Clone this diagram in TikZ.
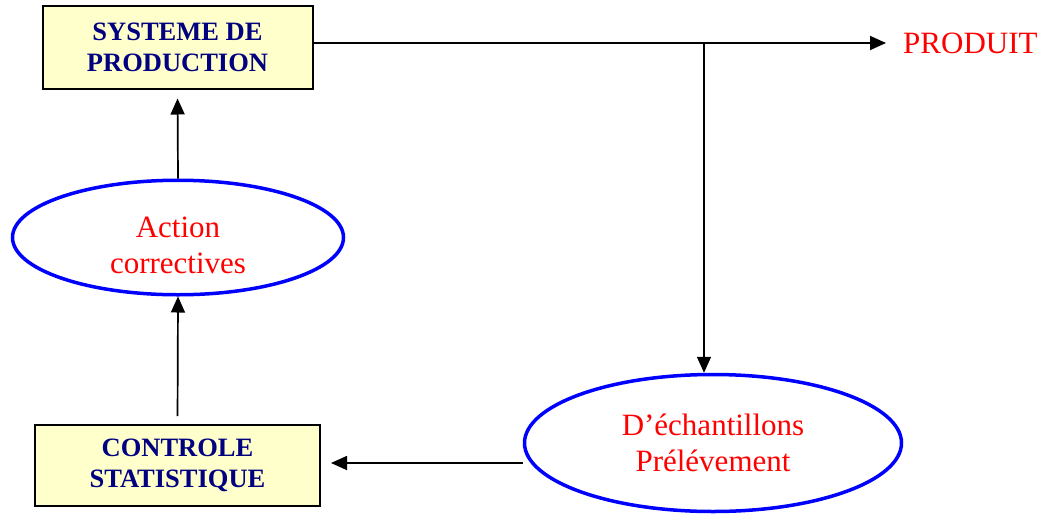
\documentclass[tikz,border=0pt]{standalone}
\usepackage{fontspec}
\setmainfont{Liberation Serif}
\usetikzlibrary{shapes.geometric,arrows.meta}
\definecolor{boxfill}{HTML}{FFFFCC}
\definecolor{navytext}{HTML}{000080}
\tikzset{
  boxnode/.style={draw=black, line width=2pt, fill=boxfill, text=navytext, align=center, inner sep=0pt,
    font=\fontsize{26.5}{31}\selectfont\bfseries},
  ellnode/.style={ellipse, draw=blue, line width=3.5pt, text=red, align=center, inner sep=0pt,
    font=\fontsize{31}{36}\selectfont},
  arr/.style={draw=black, line width=1.7pt, -{Triangle[length=16pt,width=14pt]}}
}
\begin{document}
\begin{tikzpicture}[x=1pt,y=-1pt]
\useasboundingbox (0,0) rectangle (1042,515);
\node[boxnode, minimum width=270pt, minimum height=83pt] (box1) at (177.5,47) {SYSTEME DE\\PRODUCTION};
\node[boxnode, minimum width=285pt, minimum height=81pt] (box2) at (177.5,465.5) {CONTROLE\\STATISTIQUE};
\node[ellnode, minimum width=331pt, minimum height=114.5pt] (ell1) at (178,237.5) {\rule{0pt}{8pt}\\[-8pt]Action\\correctives};
\node[ellnode, minimum width=377pt, minimum height=137pt] (ell2) at (713,443) {D’échantillons\\Prélévement};
\node[anchor=west, text=red, inner xsep=17pt, inner ysep=0pt, font=\fontsize{31}{36}\selectfont] (prod) at (886,43) {PRODUIT};
\coordinate (br) at (704,43);
\coordinate (e2l) at ([yshift=-20pt]ell2.west);
\draw[arr] (box1.east |- prod.west) -- (prod.west);
\draw[arr] (br) -- (br |- ell2.north);
\draw[arr, shorten >=10pt] (e2l) -- (box2.east |- e2l);
\draw[arr, shorten <=8pt] (box2.north) -- (ell1.south);
\draw[arr, shorten >=9pt] (ell1.north) -- (box1.south);
\end{tikzpicture}
\end{document}
